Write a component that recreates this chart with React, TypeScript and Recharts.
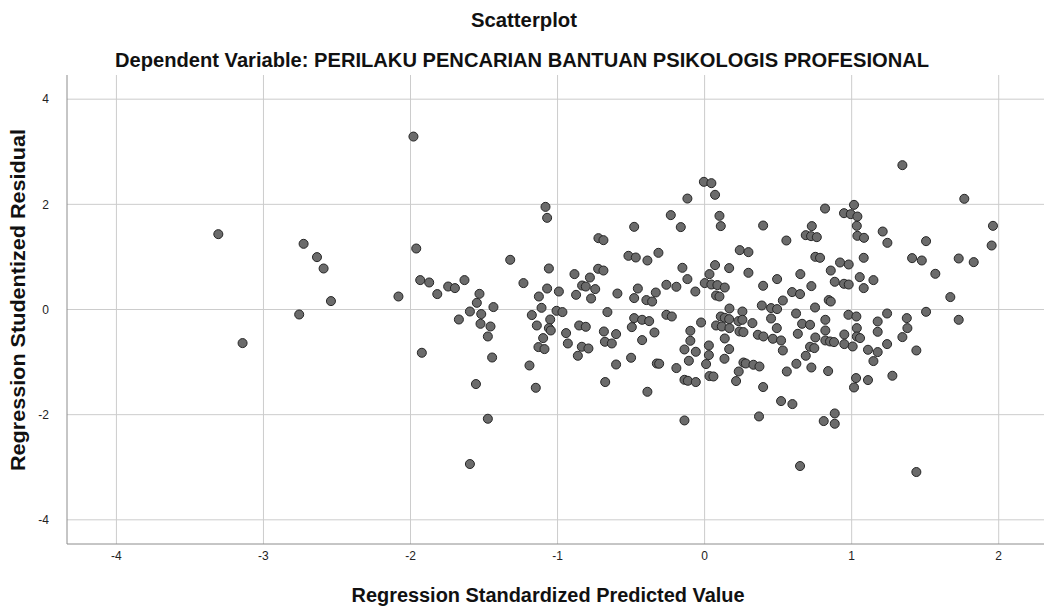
import React from 'react';
import { ScatterChart, Scatter, XAxis, YAxis, ZAxis, ReferenceLine } from 'recharts';

// Regression standardized predicted value (x) and studentized residual (y)
const predicted = [
  -3.307, -2.727, -2.636, -2.591, -2.541, -2.757, -3.142, -2.082,
  -1.980, -1.082, -1.071, -1.961, -1.322, -1.059, -1.934, -1.873, -1.818, -1.744, -1.698, -1.633,
  -1.232, -1.071, -1.127, -0.991, -1.531, -1.549, -1.436, -1.596, -1.519, -1.671, -1.175, -1.109,
  -1.007, -1.050, -1.524, -1.456, -1.141, -1.059,
  -1.474, -1.046, -1.098, -1.130, -1.089, -1.923, -1.445, -1.191, -1.555, -1.148, -1.474, -1.596,
  -0.005, -0.117, -0.230, -0.162, -0.479, -0.722, -0.688, -0.518, -0.468, -0.389, -0.314, -0.724,
  -0.688, -0.885, -0.780, -0.151, -0.117, -0.833, -0.808, -0.744, -0.874, -0.772, -0.593, -0.454,
  -0.479, -0.396, -0.357, -0.332, -0.260, -0.192, -0.063, 0.001, -0.967, -0.661, -0.479, -0.425,
  -0.377, -0.260, -0.223, -0.024, -0.853, -0.808, -0.495,
  -0.942, -0.930, -0.862, -0.835, -0.790, -0.685, -0.602, -0.678, -0.631, -0.425, -0.341, -0.602,
  -0.500, -0.325, -0.309, -0.676, -0.389, -0.192, -0.137, -0.114, -0.060, -0.137, -0.097, -0.097,
  -0.137, -0.060, -0.107, 0.029, 0.029, 0.010, 0.033,
  0.046, 0.071, 0.101, 0.110, 0.398, 0.556, 0.819, 1.016, 0.948, 0.994, 1.039, 1.035, 1.039, 0.729,
  0.688, 0.724, 0.763, 0.239, 0.298, 0.753, 0.785, 0.921, 0.980, 0.071, 0.167, 0.033, 0.298, 0.651,
  0.493, 0.858, 0.046, 0.087, 0.137, 0.398, 0.726, 0.885, 0.948, 0.980, 0.078, 0.101, 0.595, 0.649,
  0.532, 0.844, 0.858, 0.389, 0.452, 0.493, 0.751, 0.169, 0.257, 0.110, 0.137, 0.167, 0.230, 0.257,
  0.325, 0.452, 0.622, 0.978, 1.032, 0.663, 0.717, 0.821, 0.078, 0.117, 0.491,
  0.169, 0.237, 0.264, 0.362, 0.400, 0.464, 0.520, 0.532, 0.634, 0.753, 0.821, 0.821, 0.853, 0.880,
  0.717, 0.746, 0.688, 0.624, 0.726, 0.840, 0.559, 0.950, 0.950, 1.007, 1.035, 1.035, 1.030, 1.016,
  0.060, 0.137, 0.167, 0.135, 0.264, 0.280, 0.332, 0.373, 0.232, 0.214, 0.398, 0.520, 0.597, 0.370,
  0.885, 0.810, 0.885, 0.649,
  1.345, 1.766, 1.084, 1.211, 1.243, 1.506, 1.961, 1.952, 1.082, 1.411, 1.477, 1.728, 1.830, 1.569,
  1.055, 1.148, 1.082, 1.671, 1.241, 1.177, 1.375, 1.506, 1.728, 1.379,
  1.177, 1.057, 1.345, 1.241, 1.111, 1.177, 1.148, 1.440, 1.111, 1.277, 1.440,
];

const residual = [
  1.433, 1.249, 0.996, 0.780, 0.160, -0.095, -0.639, 0.247,
  3.289, 1.952, 1.743, 1.160, 0.945, 0.780, 0.559, 0.514, 0.293, 0.437, 0.407, 0.559,
  0.502, 0.399, 0.247, 0.342, 0.298, 0.127, 0.046, -0.038, -0.087, -0.190, -0.106, 0.032,
  -0.025, -0.190, -0.272, -0.323, -0.304, -0.354,
  -0.513, -0.399, -0.544, -0.715, -0.753, -0.823, -0.913, -1.065, -1.418, -1.489, -2.078, -2.939,
  2.428, 2.110, 1.795, 1.567, 1.572, 1.357, 1.319, 1.021, 0.989, 0.932, 1.078, 0.774,
  0.741, 0.673, 0.608, 0.793, 0.578, 0.456, 0.437, 0.388, 0.279, 0.209, 0.304, 0.399,
  0.217, 0.179, 0.152, 0.323, 0.470, 0.432, 0.342, 0.502, -0.049, -0.049, -0.164, -0.196,
  -0.221, -0.101, -0.133, -0.247, -0.304, -0.329, -0.335,
  -0.449, -0.646, -0.880, -0.709, -0.741, -0.418, -0.468, -0.614, -0.646, -0.582, -0.437, -1.046,
  -0.918, -1.027, -1.032, -1.380, -1.565, -1.114, -1.337, -1.356, -1.380, -2.110, -0.405, -0.595,
  -0.760, -0.804, -0.975, -0.684, -0.867, -1.038, -1.266,
  2.403, 2.181, 1.781, 1.586, 1.597, 1.312, 1.920, 1.990, 1.832, 1.813, 1.768, 1.591, 1.401, 1.586,
  1.414, 1.395, 1.376, 1.129, 1.091, 1.002, 0.983, 0.894, 0.856, 0.844, 0.787, 0.673, 0.698, 0.673,
  0.578, 0.741, 0.475, 0.464, 0.418, 0.451, 0.445, 0.527, 0.489, 0.475, 0.266, 0.247, 0.331, 0.293,
  0.171, 0.179, 0.152, 0.076, 0.027, 0.008, 0.038, 0.019, -0.038, -0.133, -0.158, -0.183, -0.221, -0.196,
  -0.259, -0.171, -0.076, -0.101, -0.133, -0.272, -0.291, -0.196, -0.304, -0.323, -0.354,
  -0.354, -0.418, -0.430, -0.481, -0.513, -0.557, -0.589, -0.779, -0.462, -0.532, -0.399, -0.589, -0.608, -0.620,
  -0.709, -0.734, -0.880, -1.032, -1.103, -1.171, -1.179, -0.475, -0.658, -0.703, -0.354, -0.513, -1.304, -1.483,
  -1.274, -0.551, -0.753, -0.937, -1.008, -1.027, -1.051, -1.084, -1.179, -1.361, -1.475, -1.742, -1.799, -2.034,
  -1.977, -2.122, -2.173, -2.977,
  2.745, 2.105, 1.363, 1.483, 1.268, 1.300, 1.591, 1.217, 0.983, 0.977, 0.932, 0.970, 0.901, 0.679,
  0.616, 0.559, 0.407, 0.236, -0.076, -0.228, -0.164, -0.044, -0.196, -0.354,
  -0.424, -0.544, -0.525, -0.658, -0.766, -0.810, -0.981, -0.779, -1.342, -1.260, -3.091,
];

const xTicks = [-4, -3, -2, -1, 0, 1, 2];
const yTicks = [-4, -2, 0, 2, 4];

const points = predicted.map((x, i) => ({ x, y: residual[i] }));

const font = '"Liberation Sans", Arial, sans-serif';
const tickStyle = { fill: '#222', fontSize: 12, fontFamily: font };
const gridColor = '#cccccc';

export default function App() {
  return (
    <div style={{ position: 'relative', width: 1044, height: 607, background: '#fff' }}>
      <style>{'body{margin:0}'}</style>
      <ScatterChart width={1044} height={607} margin={{ top: 75, right: 0, bottom: 0, left: 0 }}>
        {xTicks.map((t) => (
          <ReferenceLine key={`gx${t}`} x={t} stroke={gridColor} strokeWidth={1} />
        ))}
        {yTicks.map((t) => (
          <ReferenceLine key={`gy${t}`} y={t} stroke={gridColor} strokeWidth={1} />
        ))}
        <XAxis
          type="number"
          dataKey="x"
          domain={[-4.336, 2.308]}
          ticks={xTicks}
          allowDataOverflow
          height={63}
          stroke="#8c8c8c"
          tickLine={false}
          tickSize={6}
          tickMargin={1}
          tick={tickStyle}
        />
        <YAxis
          type="number"
          dataKey="y"
          domain={[-4.46, 4.46]}
          ticks={yTicks}
          allowDataOverflow
          width={67}
          stroke="#8c8c8c"
          tickLine={false}
          tickSize={6}
          tickMargin={12}
          tick={tickStyle}
        />
        <ZAxis range={[80, 80]} />
        <Scatter data={points} fill="#6b6b6b" stroke="#262626" strokeWidth={1} isAnimationActive={false} />
      </ScatterChart>
      <svg width={1044} height={607} style={{ position: 'absolute', left: 0, top: 0, pointerEvents: 'none' }}>
        <g fontFamily={font} fontWeight="bold" fill="#111">
          <text x={524} y={27} fontSize={20} textAnchor="middle" textLength={106} lengthAdjust="spacingAndGlyphs">
            Scatterplot
          </text>
          <text x={522} y={67} fontSize={20} textAnchor="middle" textLength={814} lengthAdjust="spacingAndGlyphs">
            Dependent Variable: PERILAKU PENCARIAN BANTUAN PSIKOLOGIS PROFESIONAL
          </text>
          <text x={548} y={602} fontSize={20} textAnchor="middle" textLength={393} lengthAdjust="spacingAndGlyphs">
            Regression Standardized Predicted Value
          </text>
          <text
            x={0}
            y={0}
            fontSize={20}
            textAnchor="middle"
            textLength={342}
            lengthAdjust="spacingAndGlyphs"
            transform="translate(25,300) rotate(-90)"
          >
            Regression Studentized Residual
          </text>
        </g>
      </svg>
    </div>
  );
}
